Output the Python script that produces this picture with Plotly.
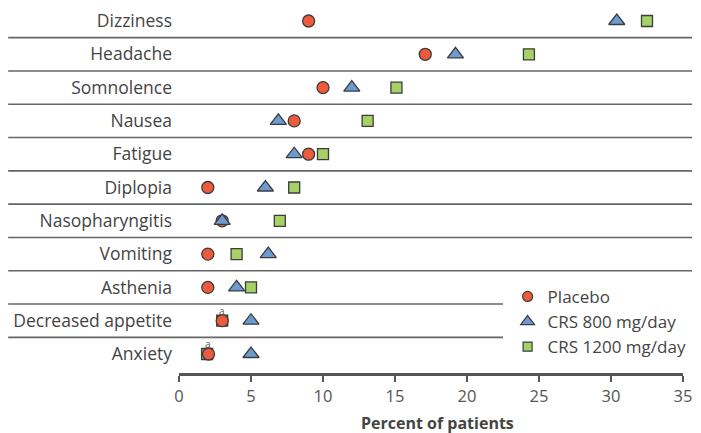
import plotly.graph_objects as go

# Adverse events by treatment group (percent of patients)
categories = ["Dizziness", "Headache", "Somnolence", "Nausea", "Fatigue", "Diplopia",
              "Nasopharyngitis", "Vomiting", "Asthenia", "Decreased appetite", "Anxiety"]
placebo = [9.0, 17.1, 10.0, 8.0, 9.0, 2.0, 3.0, 2.0, 2.0, 3.0, 2.05]
crs_800 = [30.4, 19.2, 12.0, 6.9, 8.0, 6.0, 3.0, 6.2, 4.0, 5.0, 5.0]
crs_1200 = [32.5, 24.3, 15.1, 13.1, 10.0, 8.0, 7.0, 4.0, 5.0, 3.0, 1.95]
x_ticks = [0, 5, 10, 15, 20, 25, 30, 35]
footnote_rows = ["Decreased appetite", "Anxiety"]
footnote_x = [3.0, 2.0]

FONT = "Open Sans"
TEXT = "#444444"
EDGE = "#3c3c3c"

series = {
    "Placebo": dict(values=placebo, symbol="circle", size=12, color="#ee5a3c", rank=1),
    "CRS 800 mg/day": dict(values=crs_800, symbol="triangle-up", size=14, color="#6c9bd2", rank=2),
    "CRS 1200 mg/day": dict(values=crs_1200, symbol="square", size=11, color="#a5d165", rank=3),
}

fig = go.Figure()

# squares drawn first, then circles, then triangles on top
for name in ["CRS 1200 mg/day", "Placebo", "CRS 800 mg/day"]:
    s = series[name]
    fig.add_trace(go.Scatter(
        x=s["values"], y=categories, mode="markers", name=name, showlegend=False,
        legendgroup=name,
        marker=dict(symbol=s["symbol"], size=s["size"], color=s["color"],
                    line=dict(color=EDGE, width=1.3)),
        cliponaxis=False))

# legend entries with slightly smaller symbols
for name, s in series.items():
    fig.add_trace(go.Scatter(
        x=[None], y=[None], mode="markers", name=name, legendgroup=name,
        legendrank=s["rank"],
        marker=dict(symbol=s["symbol"], size=s["size"] - 2, color=s["color"],
                    line=dict(color=EDGE, width=1.2))))

# row separators; the lowest two stop short of the legend
shapes = []
for i in range(len(categories) - 1):
    x1 = 0.643 if i >= 8 else 1.018
    shapes.append(dict(type="line", xref="paper", yref="y", x0=-0.339, x1=x1,
                       y0=i + 0.5, y1=i + 0.5, line=dict(color="#666666", width=1.6)))

annotations = [dict(x=fx, y=row, text="a", showarrow=False, yshift=10,
                    font=dict(family=FONT, size=10, color="#555555"))
               for fx, row in zip(footnote_x, footnote_rows)]
annotations.append(dict(x=0.5, y=0, xref="paper", yref="paper", xshift=6, yshift=-50,
                        yanchor="middle", showarrow=False,
                        text="<b>Percent of patients</b>",
                        font=dict(family=FONT, size=16, color=TEXT)))

fig.update_layout(
    width=701, height=433,
    margin=dict(l=179, r=18, t=4, b=60),
    paper_bgcolor="white", plot_bgcolor="white",
    font=dict(family=FONT, size=17, color=TEXT),
    shapes=shapes, annotations=annotations,
    showlegend=True,
    legend=dict(x=0.652, y=0.255, xanchor="left", yanchor="top",
                bgcolor="rgba(255,255,255,0)", tracegroupgap=0,
                font=dict(family=FONT, size=17, color=TEXT)),
    xaxis=dict(range=[0, 35], tickvals=x_ticks, showgrid=False, zeroline=False,
               showline=True, linecolor="#555555", linewidth=2.5,
               ticks="outside", ticklen=6, tickwidth=2, tickcolor="#555555",
               tickfont=dict(family=FONT, size=16.5, color="#555555")),
    yaxis=dict(type="category", categoryorder="array", categoryarray=categories,
               range=[10.57, -0.51], showgrid=False, zeroline=False, showline=False,
               ticks="", ticklabelstandoff=6,
               tickfont=dict(family=FONT, size=17.5, color=TEXT)),
)

fig.write_html("out.html")
